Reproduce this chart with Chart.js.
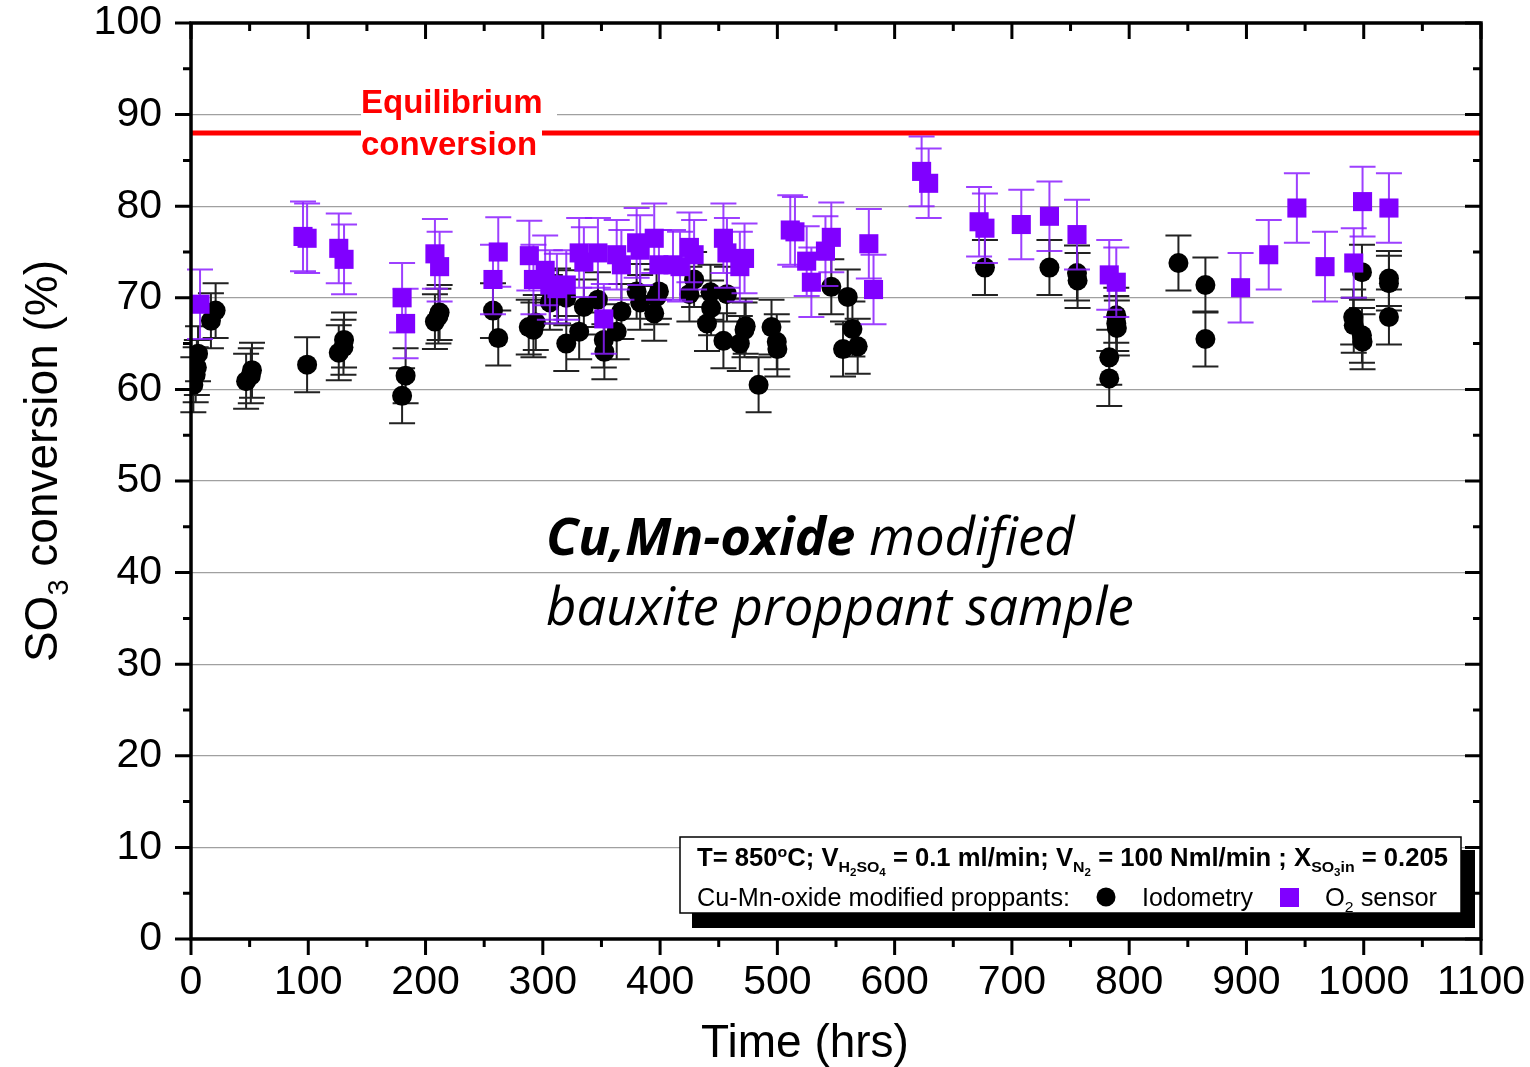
<!DOCTYPE html>
<html>
<head>
<meta charset="utf-8">
<title>SO3 conversion vs time</title>
<script src="https://cdn.jsdelivr.net/npm/chart.js@4.4.0/dist/chart.umd.min.js"></script>
<style>
  html, body { margin: 0; padding: 0; background: #fff; }
  #wrap { width: 1530px; height: 1067px; position: relative; }
</style>
</head>
<body>
<div id="wrap"><canvas id="chart"></canvas></div>
<script>
// Iodometry (black circles)
const iodoTime = [2, 4, 5, 6, 17, 21, 47, 51, 52, 99, 126, 130, 130.5, 180, 183, 208, 211, 212,
  257.5, 262, 288, 292, 294, 306, 313, 320, 320, 331, 335, 347, 352, 352.5, 363, 367, 380, 383,
  395, 397, 399, 425, 429, 440, 443, 443.5, 454, 457, 468, 472, 473, 484, 495, 499.5, 500,
  546, 556, 560, 564, 568.5, 677, 732, 755.5, 756, 783, 783, 789, 789, 789.5, 842, 865, 865,
  991, 991.5, 998.5, 998.5, 999, 1021.5, 1021.5, 1021.5];
const iodoConv = [60.5, 61.6, 62.4, 63.9, 67.5, 68.6, 60.9, 61.5, 62.1, 62.7, 64.0, 64.6, 65.4, 59.3, 61.5, 67.4, 68.0, 68.4,
  68.6, 65.6, 66.8, 66.5, 67.3, 69.5, 70.2, 70.0, 65.0, 66.3, 69.0, 69.8, 65.4, 64.1, 66.3, 68.5, 70.7, 69.5,
  68.3, 70.1, 70.7, 70.4, 72.0, 67.2, 70.6, 68.9, 65.3, 70.4, 65.0, 66.5, 66.9, 60.5, 66.8, 65.2, 64.4,
  71.2, 64.4, 70.1, 66.6, 64.7, 73.3, 73.3, 72.7, 71.9, 63.5, 61.2, 68.1, 67.2, 66.7, 73.8, 71.4, 65.5,
  67.9, 67.0, 72.8, 65.9, 65.2, 72.1, 71.6, 67.9];
const iodoErr = 3.0;

// O2 sensor (purple squares)
const o2Time = [7.7, 95.5, 99, 126, 130.5, 180, 183, 208, 212, 257.5, 262, 288.5, 292, 302, 306, 312, 320,
  331, 335, 347, 352, 363, 367, 380, 383, 395, 399, 411, 417, 425, 429, 454, 457, 468, 472,
  511, 515, 525, 529, 541, 546, 578, 582, 623, 629, 672, 677, 708, 732, 755.5, 783, 789,
  895, 919, 943, 967, 991.5, 999, 1021.5];
const o2Conv = [69.3, 76.7, 76.5, 75.4, 74.2, 70.0, 67.2, 74.8, 73.4, 72.0, 75.0, 74.6, 72.0, 73.0, 71.4, 71.0, 71.4,
  74.9, 73.9, 74.9, 67.7, 74.7, 73.6, 76.0, 75.2, 76.5, 73.6, 73.6, 73.4, 75.5, 74.7, 76.5, 74.9, 73.4, 74.3,
  77.4, 77.2, 74.0, 71.7, 75.1, 76.6, 75.9, 70.9, 83.8, 82.5, 78.3, 77.6, 78.0, 78.9, 76.9, 72.5, 71.7,
  71.1, 74.7, 79.8, 73.4, 73.8, 80.5, 79.8];
const o2Err = 3.8;

const eqConversion = 88;
const xTicks = [0, 100, 200, 300, 400, 500, 600, 700, 800, 900, 1000, 1100];
const yTicks = [0, 10, 20, 30, 40, 50, 60, 70, 80, 90, 100];

const ARIAL = "'Liberation Sans', Arial, sans-serif";
const NARROW = "'Liberation Sans Narrow', 'Liberation Sans', Arial, sans-serif";
const PURPLE = '#8000ff';

function toPoints(xs, ys) {
  return xs.map((x, i) => ({ x: x, y: ys[i] }));
}

// draws text runs: [text, level] level 0 normal, 1 sub, 2 sub of sub, -1 sup
function drawRuns(ctx, runs, x, y, size, weight, family, targetWidth) {
  const parts = runs.map(([text, lvl]) => {
    let s = size, dy = 0;
    if (lvl === 1) { s = size * 0.62; dy = size * 0.22; }
    if (lvl === 2) { s = size * 0.45; dy = size * 0.40; }
    if (lvl === -1) { s = size * 0.62; dy = -size * 0.38; }
    ctx.font = weight + ' ' + s + 'px ' + family;
    return { text, s, dy, w: ctx.measureText(text).width };
  });
  const total = parts.reduce((a, p) => a + p.w, 0);
  const k = targetWidth ? targetWidth / total : 1;
  ctx.save();
  ctx.translate(x, y);
  ctx.scale(k, 1);
  ctx.textBaseline = 'alphabetic';
  ctx.textAlign = 'left';
  let cx = 0;
  parts.forEach(p => {
    ctx.font = weight + ' ' + p.s + 'px ' + family;
    ctx.fillText(p.text, cx, p.dy);
    cx += p.w;
  });
  ctx.restore();
}

// no extra room for the end labels, the plot box is set by layout padding
function noPad(s) {
  s.paddingTop = 0; s.paddingBottom = 0; s.paddingLeft = 0; s.paddingRight = 0;
}

const errorBars = {
  id: 'errorBars',
  beforeDatasetDraw(chart, args) {
    const ds = chart.data.datasets[args.index];
    const yScale = chart.scales.y;
    const ctx = chart.ctx;
    ctx.save();
    ctx.strokeStyle = ds.errColor;
    ctx.lineWidth = 2;
    args.meta.data.forEach((pt, i) => {
      const v = ds.data[i].y;
      const top = yScale.getPixelForValue(v + ds.err);
      const bot = yScale.getPixelForValue(v - ds.err);
      ctx.beginPath();
      ctx.moveTo(pt.x, top); ctx.lineTo(pt.x, bot);
      ctx.moveTo(pt.x - 13, top); ctx.lineTo(pt.x + 13, top);
      ctx.moveTo(pt.x - 13, bot); ctx.lineTo(pt.x + 13, bot);
      ctx.stroke();
    });
    ctx.restore();
  }
};

const equilibrium = {
  id: 'equilibrium',
  beforeDatasetsDraw(chart) {
    const { ctx, chartArea: a, scales: { y } } = chart;
    const py = y.getPixelForValue(eqConversion);
    ctx.save();
    ctx.strokeStyle = '#ff0000';
    ctx.lineWidth = 5;
    ctx.beginPath();
    ctx.moveTo(a.left, py); ctx.lineTo(a.right, py);
    ctx.stroke();
    // label boxes
    ctx.fillStyle = '#fff';
    ctx.fillRect(361, 84, 196, 38);
    ctx.fillRect(361, 124, 181, 40);
    ctx.fillStyle = '#ff0000';
    ctx.font = 'bold 33px ' + ARIAL;
    ctx.textBaseline = 'alphabetic';
    ctx.fillText('Equilibrium', 361, 113);
    ctx.fillText('conversion', 361, 155);
    ctx.restore();
  }
};

const frame = {
  id: 'frame',
  afterDraw(chart) {
    const { ctx, chartArea: a, scales: { x, y } } = chart;
    ctx.save();
    ctx.strokeStyle = '#000';
    ctx.lineCap = 'butt';
    ctx.lineWidth = 3;
    // ticks
    for (let v = 0; v <= 1100; v += 50) {
      const px = x.getPixelForValue(v);
      const len = v % 100 === 0 ? 16 : 8;
      ctx.beginPath();
      ctx.moveTo(px, a.bottom); ctx.lineTo(px, a.bottom + len);
      ctx.moveTo(px, a.top); ctx.lineTo(px, a.top + len);
      ctx.stroke();
    }
    for (let v = 0; v <= 100; v += 5) {
      const py = y.getPixelForValue(v);
      const len = v % 10 === 0 ? 16 : 8;
      ctx.beginPath();
      ctx.moveTo(a.left, py); ctx.lineTo(a.left - len, py);
      ctx.moveTo(a.right, py); ctx.lineTo(a.right - len, py);
      ctx.stroke();
    }
    ctx.lineWidth = 3.5;
    ctx.strokeRect(a.left, a.top, a.right - a.left, a.bottom - a.top);

    // axis titles
    ctx.fillStyle = '#000';
    ctx.font = '46px ' + ARIAL;
    ctx.textAlign = 'center';
    ctx.textBaseline = 'alphabetic';
    ctx.fillText('Time (hrs)', 805, 1057);

    ctx.save();
    ctx.translate(57, 0);
    ctx.rotate(-Math.PI / 2);
    ctx.font = '46px ' + ARIAL;
    const w1 = ctx.measureText('SO').width;
    ctx.font = '29px ' + ARIAL;
    const w2 = ctx.measureText('3').width;
    ctx.font = '46px ' + ARIAL;
    const w3 = ctx.measureText(' conversion (%)').width;
    const start = -(461 + (w1 + w2 + w3) / 2);
    ctx.textAlign = 'left';
    ctx.fillText('SO', start, 0);
    ctx.font = '29px ' + ARIAL;
    ctx.fillText('3', start + w1, 11);
    ctx.font = '46px ' + ARIAL;
    ctx.fillText(' conversion (%)', start + w1 + w2, 0);
    ctx.restore();

    // sample annotation
    ctx.textAlign = 'left';
    ctx.font = 'italic 52px "Open Sans", sans-serif';
    const lw = ctx.measureText('bauxite proppant sample').width;
    const fs = 52 * 588 / lw;
    ctx.font = 'italic bold ' + fs + 'px "Open Sans", sans-serif';
    ctx.fillText('Cu,Mn-oxide', 546, 555);
    const bw = ctx.measureText('Cu,Mn-oxide ').width;
    ctx.font = 'italic ' + fs + 'px "Open Sans", sans-serif';
    ctx.fillText('modified', 546 + bw, 555);
    ctx.fillText('bauxite proppant sample', 546, 625);

    // legend box with shadow
    ctx.fillStyle = '#000';
    ctx.fillRect(692, 850, 783, 78);
    ctx.fillStyle = '#fff';
    ctx.fillRect(680, 837, 781, 76);
    ctx.lineWidth = 1.5;
    ctx.strokeStyle = '#000';
    ctx.strokeRect(680, 837, 781, 76);
    ctx.fillStyle = '#000';
    drawRuns(ctx, [['T= 850', 0], ['o', -1], ['C; V', 0], ['H', 1], ['2', 2], ['SO', 1], ['4', 2],
      [' = 0.1 ml/min; V', 0], ['N', 1], ['2', 2], [' = 100 Nml/min ; X', 0], ['SO', 1], ['3', 2], ['in', 1],
      [' = 0.205', 0]], 697, 866, 25, 'bold', NARROW, 751);
    drawRuns(ctx, [['Cu-Mn-oxide modified proppants:', 0]], 697, 906, 25, 'normal', NARROW, 373);
    drawRuns(ctx, [['Iodometry', 0]], 1142, 906, 25, 'normal', NARROW, 111);
    drawRuns(ctx, [['O', 0], ['2', 1], [' sensor', 0]], 1325, 906, 25, 'normal', NARROW, 112);
    ctx.beginPath();
    ctx.arc(1106, 897, 9.5, 0, Math.PI * 2);
    ctx.fill();
    ctx.fillStyle = PURPLE;
    ctx.fillRect(1280, 888, 19, 19);
    ctx.restore();
  }
};

new Chart(document.getElementById('chart'), {
  type: 'scatter',
  data: {
    datasets: [
      {
        label: 'O2 sensor',
        data: toPoints(o2Time, o2Conv),
        pointStyle: 'rect',
        pointRadius: 13.5,
        backgroundColor: PURPLE,
        borderWidth: 0,
        err: o2Err,
        errColor: 'rgba(140, 30, 255, 0.85)'
      },
      {
        label: 'Iodometry',
        data: toPoints(iodoTime, iodoConv),
        pointStyle: 'circle',
        pointRadius: 10,
        backgroundColor: '#000',
        borderWidth: 0,
        err: iodoErr,
        errColor: '#222'
      }
    ]
  },
  options: {
    responsive: true,
    maintainAspectRatio: false,
    animation: false,
    devicePixelRatio: 1,
    events: [],
    layout: { padding: { top: 23, right: 49, left: 0, bottom: 0 } },
    plugins: { legend: { display: false }, tooltip: { enabled: false } },
    scales: {
      x: {
        type: 'linear', min: 0, max: 1100,
        afterBuildTicks: s => { s.ticks = xTicks.map(v => ({ value: v })); },
        afterFit: s => { s.height = 128; noPad(s); },
        grid: { display: false, drawTicks: false },
        border: { display: false },
        ticks: { color: '#000', font: { family: ARIAL, size: 41 }, padding: 19, maxRotation: 0,
          autoSkip: false, callback: v => String(v) }
      },
      y: {
        type: 'linear', min: 0, max: 100,
        afterBuildTicks: s => { s.ticks = yTicks.map(v => ({ value: v })); },
        afterFit: s => { s.width = 191; noPad(s); },
        grid: { color: '#a0a0a0', lineWidth: 1.2, drawTicks: false },
        border: { display: false },
        ticks: { color: '#000', font: { family: ARIAL, size: 41 }, padding: 29, autoSkip: false,
          callback: v => String(v) }
      }
    }
  },
  plugins: [equilibrium, errorBars, frame]
});
</script>
</body>
</html>
